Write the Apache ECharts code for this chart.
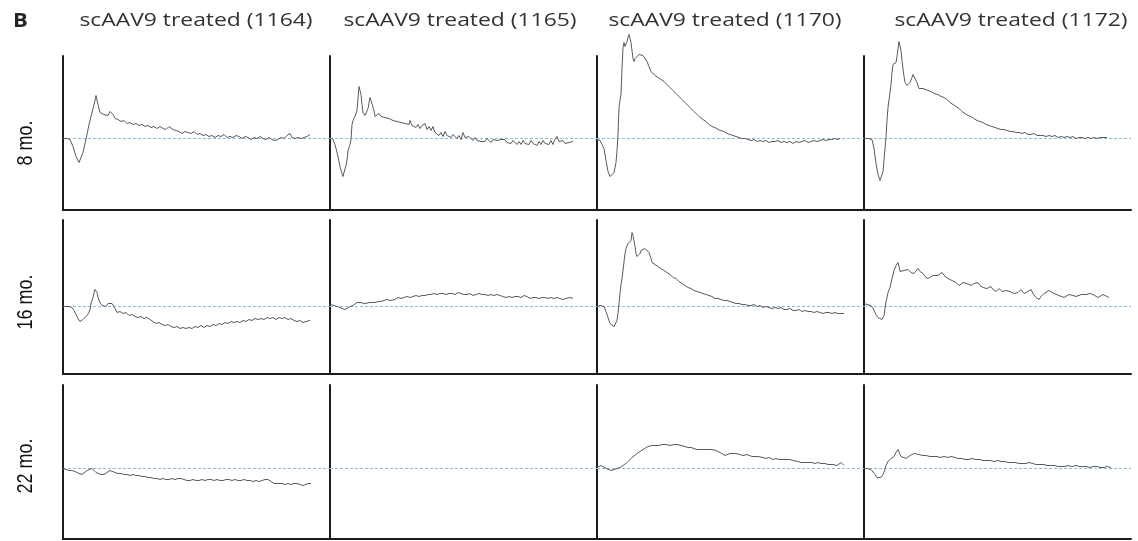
<!DOCTYPE html>
<html>
<head>
<meta charset="utf-8">
<script src="https://cdn.jsdelivr.net/npm/echarts@6/dist/echarts.min.js"></script>
<style>
  html, body { margin: 0; padding: 0; background: #fff; }
  #main { width: 1138px; height: 541px; }
</style>
</head>
<body>
<div id="main"></div>
<script>
// panel labels
const animals = ['1164', '1165', '1170', '1172'];
const ages = ['8 mo.', '16 mo.', '22 mo.'];

// traces: [time, response above baseline], arbitrary units
const t1164_8 = [[0,0],[4,0],[7,-1],[10,-8],[13,-18],[16,-24],[18,-22],[20,-14],[22,-5],[24,4],[26,14],[28,22],[30,30],[32,38],[33,43],[35,34],[37,26],[39,27],[41,24],[43,25],[45,23],[47,27],[48,28],[50,24],[52,20],[55,19],[58,17],[61,18],[64,15],[67,16],[70,14],[73,15],[76,13],[79,14],[82,12],[85,13],[88,11],[91,12],[94,10],[97,12],[100,10],[103,9],[106,12],[108,13],[110,9],[113,8],[116,7],[119,5],[122,7],[125,6],[128,5],[131,7],[134,4],[137,5],[140,3],[143,4],[146,2],[149,3],[152,1],[155,3],[158,2],[161,4],[164,1],[167,2],[170,1],[173,3],[176,2],[179,0],[182,2],[185,1],[188,-1],[191,1],[194,0],[197,2],[200,0],[203,-1],[206,1],[209,-1],[212,-2],[215,-1],[218,1],[221,0],[224,3],[227,5],[229,1],[232,0],[235,1],[238,0],[241,1],[244,2],[247,4]];
const t1165_8 = [[0,1],[3,-1],[5,-6],[8,-18],[10,-28],[12,-35],[13,-38],[14,-34],[16,-27],[17,-22],[18,-12],[19,-9],[20,-6],[21,-1],[22,14],[23,18],[25,22],[27,28],[28,40],[29,52],[30,50],[31,44],[32,34],[33,26],[35,23],[37,22],[38,30],[40,41],[41,38],[42,38],[44,28],[45,22],[47,23],[49,25],[51,22],[53,24],[55,21],[57,23],[59,20],[61,21],[63,18],[65,20],[67,17],[69,19],[71,16],[73,18],[75,15],[77,17],[79,14],[80,18],[82,13],[84,15],[86,11],[88,14],[90,10],[92,13],[94,11],[95,15],[97,9],[99,12],[101,8],[103,12],[105,6],[107,5],[109,3],[111,6],[113,2],[115,7],[117,3],[119,5],[121,1],[123,4],[125,2],[127,0],[129,3],[131,-1],[133,6],[135,1],[137,-1],[139,2],[141,0],[143,-2],[145,1],[147,-2],[149,0],[151,-3],[153,-1],[155,-3],[157,0],[159,-2],[161,-4],[163,-1],[165,-3],[167,-2],[169,-4],[171,-1],[173,-3],[175,-1],[177,-4],[179,-2],[181,-5],[183,-2],[185,-4],[187,-6],[189,-3],[191,-6],[193,-2],[195,-5],[197,-3],[199,-6],[201,-2],[203,-5],[205,-3],[207,-7],[209,-3],[211,-6],[213,-2],[215,-5],[217,-3],[219,-6],[221,-2],[223,-6],[225,-1],[227,2],[229,-3],[231,-5],[233,-2],[235,-5],[237,-3],[239,-4],[241,-2],[243,-3]];
const t1170_8 = [[0,-1],[3,-2],[5,-3],[7,-10],[9,-22],[11,-33],[13,-38],[15,-37],[17,-34],[19,-24],[20,-12],[21,4],[22,31],[23,38],[24,44],[25,70],[26,91],[27,96],[28,92],[29,90],[30,97],[31,101],[32,104],[33,102],[34,96],[35,88],[36,80],[37,77],[38,80],[40,82],[42,84],[44,84],[46,83],[48,81],[50,77],[52,72],[54,67],[56,65],[58,63],[61,61],[64,59],[67,57],[70,54],[73,51],[76,48],[79,45],[82,42],[85,39],[88,36],[91,33],[94,30],[97,27],[100,24],[103,21],[106,19],[109,17],[112,14],[115,12],[118,11],[121,9],[124,8],[127,7],[130,5],[133,4],[136,3],[139,2],[142,1],[145,0],[148,0],[151,-1],[154,-2],[157,-1],[160,-3],[163,-2],[166,-3],[169,-2],[172,-4],[175,-3],[178,-3],[181,-2],[184,-4],[187,-3],[190,-4],[193,-3],[196,-5],[199,-3],[202,-4],[205,-3],[208,-2],[211,-4],[214,-3],[217,-2],[220,-3],[223,-2],[226,-1],[229,-2],[232,-1],[235,-1],[238,0],[241,-1],[243,0]];
const t1172_8 = [[0,0],[4,0],[8,-1],[10,-10],[12,-25],[14,-36],[16,-42],[17,-43],[18,-40],[19,-33],[21,-10],[22,1],[23,18],[24,31],[26,46],[27,54],[28,66],[29,74],[30,73],[31,72],[32,76],[33,82],[34,90],[35,97],[36,95],[37,88],[38,78],[39,70],[40,62],[41,56],[43,53],[44,51],[46,56],[48,61],[49,64],[50,66],[51,62],[53,56],[55,50],[57,48],[59,50],[61,50],[64,48],[67,47],[70,45],[74,44],[77,42],[80,41],[83,39],[86,36],[89,34],[92,32],[95,30],[98,27],[101,25],[104,23],[107,22],[110,20],[113,18],[116,17],[119,16],[122,14],[125,13],[128,12],[131,11],[134,10],[137,9],[140,9],[143,8],[146,7],[149,7],[152,6],[155,6],[158,5],[161,6],[164,4],[167,4],[170,5],[173,3],[176,3],[179,3],[182,2],[185,3],[188,2],[191,3],[194,1],[197,2],[200,1],[203,2],[206,1],[209,2],[212,0],[215,1],[218,1],[221,0],[224,1],[227,0],[230,1],[233,0],[236,1],[240,1],[243,1]];

const t1164_16 = [[0,0],[3,0],[6,0],[9,-1],[11,-4],[13,-8],[15,-12],[17,-15],[18,-16],[20,-13],[22,-11],[24,-9],[26,-6],[27,-3],[28,3],[30,9],[31,14],[32,17],[33,18],[34,14],[35,9],[37,4],[39,1],[41,-1],[43,0],[45,3],[47,4],[49,3],[50,2],[52,-2],[54,-6],[57,-5],[60,-7],[63,-6],[66,-9],[69,-8],[72,-10],[75,-11],[78,-10],[81,-12],[84,-11],[87,-13],[90,-15],[93,-17],[96,-16],[99,-18],[102,-19],[105,-18],[108,-20],[111,-21],[114,-20],[117,-22],[120,-21],[123,-22],[126,-21],[129,-22],[132,-20],[135,-21],[138,-19],[141,-21],[144,-19],[147,-20],[150,-18],[153,-19],[156,-17],[159,-18],[162,-16],[165,-17],[168,-15],[171,-16],[174,-15],[177,-16],[180,-14],[183,-15],[186,-13],[189,-14],[192,-12],[195,-13],[198,-12],[201,-13],[204,-11],[207,-12],[210,-11],[213,-13],[216,-11],[219,-12],[222,-11],[225,-13],[228,-12],[231,-14],[234,-15],[237,-14],[240,-16],[243,-15],[247,-14]];
const t1165_16 = [[0,2],[4,1],[7,0],[10,-1],[12,-2],[15,-3],[17,-2],[20,0],[23,1],[25,1],[27,4],[28,5],[30,4],[32,3],[35,3],[37,3],[40,4],[42,5],[45,4],[48,5],[51,5],[54,6],[57,7],[60,6],[62,8],[65,7],[68,9],[71,8],[74,9],[77,10],[80,9],[83,10],[86,11],[89,10],[92,11],[95,11],[98,12],[101,12],[104,13],[107,12],[110,13],[113,13],[116,12],[119,13],[122,13],[125,12],[128,14],[131,13],[134,12],[137,12],[140,13],[143,11],[146,12],[149,13],[152,12],[155,12],[158,11],[161,12],[164,11],[167,12],[170,11],[173,10],[176,9],[179,10],[182,9],[185,10],[188,10],[191,9],[194,11],[197,10],[200,8],[203,9],[206,9],[209,8],[212,9],[215,9],[218,8],[221,9],[224,8],[227,9],[230,8],[233,7],[236,8],[238,7],[240,9],[243,8]];
const t1170_16 = [[0,0],[3,1],[7,0],[9,-5],[11,-11],[13,-17],[15,-19],[17,-20],[19,-20],[20,-14],[21,-7],[22,3],[23,13],[24,22],[25,28],[26,29],[27,30],[28,53],[29,58],[31,63],[33,65],[34,66],[35,74],[36,71],[37,69],[38,60],[39,53],[40,50],[42,48],[43,53],[44,56],[46,58],[48,58],[50,56],[52,54],[54,48],[55,44],[58,42],[61,40],[64,38],[67,36],[70,34],[73,32],[76,29],[79,28],[82,25],[85,23],[88,21],[91,19],[94,18],[97,16],[100,15],[103,14],[106,13],[109,12],[112,11],[115,10],[118,8],[121,8],[124,7],[127,6],[130,6],[133,5],[136,4],[139,3],[142,3],[145,2],[148,2],[151,1],[154,1],[157,2],[160,0],[163,1],[166,-1],[169,0],[172,-1],[175,-2],[178,-1],[181,-2],[184,-1],[187,-3],[190,-3],[193,-2],[196,-4],[199,-4],[202,-3],[205,-5],[208,-4],[211,-5],[214,-5],[217,-6],[220,-5],[223,-6],[226,-7],[229,-6],[232,-6],[235,-7],[238,-6],[241,-7],[244,-7],[247,-7]];
const t1172_16 = [[0,3],[3,2],[7,1],[9,-2],[10,-4],[12,-8],[14,-11],[16,-12],[18,-13],[19,-12],[20,-9],[21,-2],[22,5],[23,9],[24,14],[26,19],[28,28],[30,36],[32,41],[34,44],[35,40],[36,35],[37,33],[38,35],[40,36],[42,34],[44,37],[46,35],[47,34],[49,36],[50,33],[52,35],[54,38],[56,35],[59,33],[61,30],[63,28],[64,28],[66,30],[69,31],[71,29],[74,31],[76,32],[78,34],[80,31],[82,31],[84,28],[85,27],[88,26],[90,27],[92,24],[95,21],[97,23],[99,24],[101,25],[103,23],[105,22],[107,21],[110,23],[112,24],[114,24],[116,21],[119,19],[121,20],[123,18],[125,18],[127,20],[129,17],[130,19],[132,15],[134,14],[135,18],[137,18],[138,15],[140,13],[142,16],[144,14],[146,15],[148,13],[150,13],[152,15],[154,14],[157,17],[159,15],[160,13],[162,13],[164,15],[166,16],[167,17],[169,13],[171,11],[172,9],[174,7],[175,7],[177,10],[180,13],[182,15],[185,16],[187,14],[190,13],[192,12],[195,11],[197,12],[200,9],[202,11],[205,12],[207,13],[209,11],[212,10],[214,11],[217,12],[219,11],[222,12],[224,13],[226,13],[229,12],[231,11],[234,9],[236,10],[239,12],[241,11],[243,10],[245,9]];

const t1164_22 = [[0,0],[3,-1],[6,-2],[9,-2],[12,-3],[14,-4],[16,-5],[19,-6],[21,-4],[24,-2],[26,-1],[29,0],[31,-2],[33,-4],[35,-5],[38,-6],[41,-6],[44,-4],[47,-2],[49,-3],[52,-4],[55,-5],[58,-5],[61,-6],[64,-6],[67,-7],[70,-6],[73,-7],[76,-7],[79,-8],[82,-8],[85,-9],[88,-9],[91,-10],[94,-10],[97,-11],[100,-10],[103,-11],[106,-11],[109,-10],[112,-11],[115,-10],[118,-10],[121,-11],[124,-12],[127,-12],[130,-11],[133,-12],[136,-12],[139,-11],[142,-12],[145,-11],[148,-11],[151,-12],[154,-11],[157,-12],[160,-12],[163,-11],[166,-11],[169,-12],[172,-11],[175,-12],[178,-12],[181,-11],[184,-12],[187,-12],[190,-13],[193,-12],[196,-13],[199,-12],[202,-11],[205,-11],[208,-13],[211,-15],[213,-16],[216,-15],[219,-15],[222,-16],[225,-15],[228,-16],[231,-15],[234,-15],[237,-16],[240,-17],[242,-16],[245,-15],[248,-15]];
const t1165_22 = []; // no recording
const t1170_22 = [[0,1],[2,2],[4,3],[6,2],[9,0],[11,-1],[14,-2],[17,-1],[20,0],[23,1],[26,3],[28,4],[30,6],[32,8],[35,11],[37,13],[40,15],[43,17],[46,19],[48,21],[51,22],[53,22],[55,23],[58,23],[60,22],[62,23],[65,24],[67,23],[69,24],[71,24],[73,23],[75,23],[77,24],[78,25],[80,24],[82,23],[84,23],[86,22],[88,22],[91,21],[94,21],[97,20],[100,19],[103,19],[106,19],[108,20],[110,19],[112,20],[115,19],[117,19],[119,18],[121,17],[123,16],[125,15],[128,13],[130,14],[133,15],[136,15],[139,15],[141,14],[143,14],[146,13],[148,12],[150,14],[152,13],[155,12],[158,12],[161,12],[163,13],[166,11],[169,10],[172,11],[174,10],[176,9],[179,10],[182,9],[185,9],[188,9],[190,8],[193,9],[196,8],[198,7],[201,7],[204,6],[207,6],[210,6],[212,5],[215,6],[218,5],[221,6],[224,5],[226,3],[228,5],[231,4],[233,5],[236,4],[238,4],[240,3],[242,4],[244,6],[246,4],[247,3]];
const t1172_22 = [[0,0],[3,0],[7,-1],[9,-3],[11,-6],[13,-9],[15,-11],[17,-9],[19,-6],[21,-1],[22,3],[24,7],[27,10],[29,11],[30,12],[32,16],[34,19],[35,17],[37,12],[39,10],[42,10],[44,12],[46,13],[48,15],[50,15],[52,15],[55,14],[59,13],[62,13],[66,12],[69,12],[73,12],[76,11],[80,12],[84,11],[87,12],[91,11],[94,10],[98,10],[101,9],[105,9],[108,10],[112,9],[116,9],[119,8],[123,8],[126,8],[130,7],[134,8],[137,7],[141,7],[144,6],[148,6],[151,6],[155,5],[158,5],[162,5],[165,6],[169,5],[172,4],[176,4],[180,4],[183,3],[187,3],[190,3],[194,2],[197,2],[201,2],[204,3],[208,2],[212,3],[215,2],[219,2],[222,2],[226,1],[229,2],[233,2],[236,1],[240,1],[243,2],[247,1]];

const traces = [
  [t1164_8, t1165_8, t1170_8, t1172_8],
  [t1164_16, t1165_16, t1170_16, t1172_16],
  [t1164_22, t1165_22, t1170_22, t1172_22]
];
// half-unit offsets keep the 1px baseline on a pixel row
const yMin = [-71.5, -67.5, -70.5];
const yMax = [82.5, 86.5, 83.5];
const xMax = 267;

const colLeft = [63, 330, 597, 864];
const rowTop = [56, 220, 385];
const panelW = 267;
const panelH = 154;

const grid = [], xAxis = [], yAxis = [], series = [];
let k = 0;
for (let r = 0; r < 3; r++) {
  for (let c = 0; c < 4; c++) {
    grid.push({ left: colLeft[c], top: rowTop[r], width: panelW, height: panelH });
    xAxis.push({
      gridIndex: k, type: 'value', min: 0, max: xMax,
      axisLine: { onZero: false, lineStyle: { color: '#1c1c1c', width: 2 } },
      axisTick: { show: false }, axisLabel: { show: false }, splitLine: { show: false }
    });
    yAxis.push({
      gridIndex: k, type: 'value', min: yMin[r], max: yMax[r],
      axisLine: { show: true, onZero: false, lineStyle: { color: '#1c1c1c', width: 2 } },
      axisTick: { show: false }, axisLabel: { show: false }, splitLine: { show: false }
    });
    series.push({
      type: 'line',
      xAxisIndex: k, yAxisIndex: k,
      data: traces[r][c],
      showSymbol: false,
      clip: false,
      lineStyle: { color: '#5a5a5a', width: 1 },
      z: 3,
      markLine: {
        silent: true,
        symbol: 'none',
        label: { show: false },
        lineStyle: { color: '#8db9e3', type: [3, 2], width: 1, opacity: 1 },
        emphasis: { disabled: true },
        data: [{ yAxis: 0 }],
        z: 2
      }
    });
    k++;
  }
}

const colCenter = [196, 460, 725, 1011];
const rowCenter = [143, 302, 466];
const graphic = [
  { type: 'text', x: 13, y: 11, scaleX: 1.1, style: { text: 'B', font: 'bold 20px "Open Sans"', fill: '#222' } }
];
animals.forEach((a, i) => {
  graphic.push({
    type: 'text', x: colCenter[i], y: 21, scaleX: 1.27,
    style: { text: 'scAAV9 treated (' + a + ')', font: '18px "Open Sans"', fill: '#333', align: 'center', verticalAlign: 'middle' }
  });
});
ages.forEach((a, i) => {
  graphic.push({
    type: 'text', x: 26, y: rowCenter[i], rotation: Math.PI / 2, scaleY: 1.25,
    style: { text: a, font: '18px "Liberation Sans"', fill: '#111', align: 'center', verticalAlign: 'middle' }
  });
});

const chart = echarts.init(document.getElementById('main'), null, { renderer: 'canvas' });
chart.setOption({
  animation: false,
  backgroundColor: '#fff',
  grid: grid,
  xAxis: xAxis,
  yAxis: yAxis,
  series: series,
  graphic: graphic
});
</script>
</body>
</html>
